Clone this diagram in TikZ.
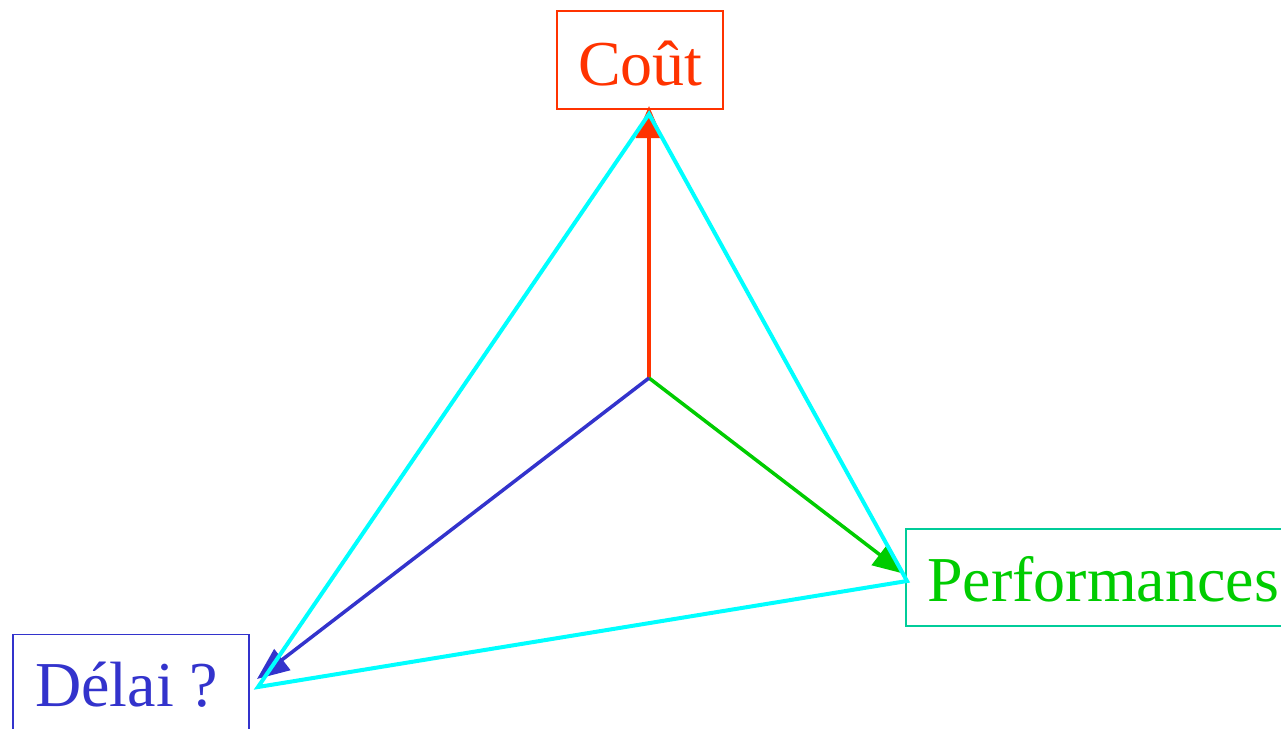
\documentclass[tikz,border=0pt]{standalone}
\usepackage{fontspec}
\setmainfont{Liberation Serif}
\usetikzlibrary{arrows.meta}
\definecolor{cred}{HTML}{FF3300}
\definecolor{cgreen}{HTML}{00CC00}
\definecolor{cteal}{HTML}{00CC99}
\definecolor{cblue}{HTML}{3333CC}
\definecolor{ccyan}{HTML}{00FFFF}
\tikzset{
  box/.style={draw, line width=1.4pt, inner sep=0pt, rectangle},
  lbl/.style={inner sep=0pt, anchor=base west, font=\fontsize{64}{70}\selectfont},
  arr/.style={line width=3.5pt, -{Triangle[length=32pt,width=26pt]}},
  tri/.style={draw=ccyan, line width=4pt, line join=miter}
}
\begin{document}
\begin{tikzpicture}
\useasboundingbox (0pt,0pt) rectangle (1281pt,-728pt);
% boxes
\node[box, draw=cred, minimum width=166pt, minimum height=98pt] (cbox) at (640pt,-60pt) {};
\node[box, draw=cteal, minimum width=390pt, minimum height=97pt] (pbox) at (1101pt,-577.5pt) {};
\node[box, draw=cblue, minimum width=236pt, minimum height=97pt] (dbox) at (131pt,-683pt) {};
% labels
\node[lbl, text=cred] (clbl) at (578pt,-85pt) {Coût};
\node[lbl, text=cgreen] (plbl) at (927pt,-601pt) {Performances};
\node[lbl, text=cblue] (dlbl) at (35pt,-706pt) {Délai ?};
% points
\coordinate (o) at (649pt,-378pt);
\coordinate (ct) at (649pt,-106pt);
\coordinate (pt) at (905pt,-574pt);
\coordinate (dt) at (257pt,-679pt);
\coordinate (ta) at (649pt,-114pt);
\coordinate (tb) at (907pt,-581pt);
\coordinate (tc) at (258pt,-687pt);
% arrows
\draw[arr, draw=cred, fill=cred] (o) -- (ct);
\draw[arr, draw=cgreen, fill=cgreen] (o) -- (pt);
\draw[arr, draw=cblue, fill=cblue] (o) -- (dt);
% triangle
\draw[tri] (ta) -- (tb) -- (tc) -- cycle;
\end{tikzpicture}
\end{document}
